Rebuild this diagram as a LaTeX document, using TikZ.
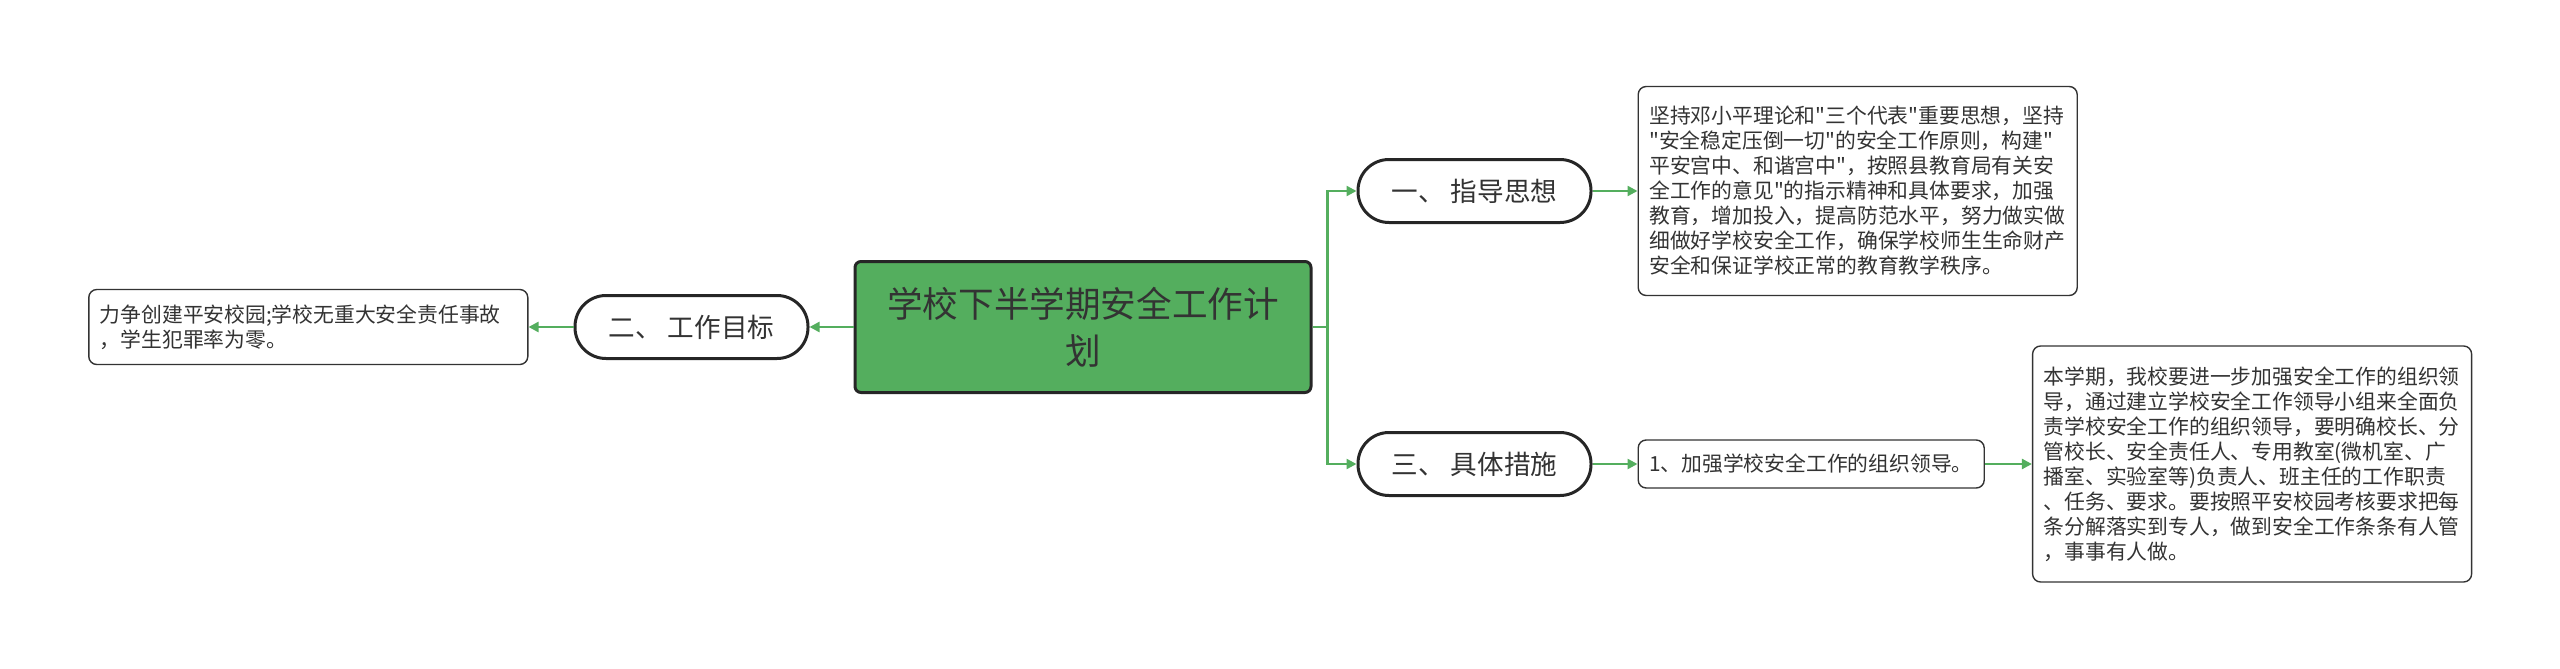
\documentclass[tikz,border=0pt]{standalone}
\usepackage{fontspec}
\setmainfont{Noto Sans CJK SC}[Ligatures=TeXOff]
\usepackage{tikz}
\usetikzlibrary{arrows.meta, positioning}
\definecolor{mapgreen}{RGB}{84,174,94}
\definecolor{inkgray}{RGB}{51,51,51}

\begin{document}
\begin{tikzpicture}[
    root/.style={rectangle, draw=black!85, line width=1.5pt, fill=mapgreen, rounded corners=3pt, minimum width=228pt, minimum height=65.5pt, align=center, text=inkgray, font=\fontsize{17.8pt}{23.4pt}\selectfont},
    topic/.style={rectangle, draw=black!85, line width=1.5pt, fill=white, rounded corners=15.5pt, minimum width=116.5pt, minimum height=31.5pt, text=inkgray, font=\fontsize{13.3pt}{16pt}\selectfont},
    note/.style={rectangle, draw=black!80, line width=0.7pt, fill=white, rounded corners=4pt, text width=208.5pt, inner xsep=5.5pt, inner ysep=0pt, align=left, text=inkgray, font=\fontsize{10.4pt}{12.5pt}\selectfont},
    link/.style={-{Triangle[length=5pt,width=5pt]}, draw=mapgreen, line width=1.2pt}
]

\useasboundingbox (0,0) rectangle (1280pt,-334.5pt);

% Root
\node[root] (plan) at (541.5pt,-163.5pt) {学校下半学期安全工作计\\划};

% Branches
\node[topic, above right=18pt and 22pt of plan] (guide) {一、 指导思想};
\node[topic, below right=18.5pt and 22pt of plan] (measure) {三、 具体措施};
\node[topic, left=22pt of plan] (goal) {二、 工作目标};

% Notes
\node[note, minimum height=104.5pt, right=22.5pt of guide] (guidenote) {坚持邓小平理论和"三个代表"重要思想，坚持\\"安全稳定压倒一切"的安全工作原则，构建"\\平安宫中、和谐宫中"，按照县教育局有关安\\全工作的意见"的指示精神和具体要求，加强\\教育，增加投入，提高防范水平，努力做实做\\细做好学校安全工作，确保学校师生生命财产\\安全和保证学校正常的教育教学秩序。};
\node[note, text width=162pt, minimum height=24pt, right=22.5pt of measure] (step1) {1、加强学校安全工作的组织领导。};
\node[note, minimum height=118pt, right=23.5pt of step1] (step1note) {本学期，我校要进一步加强安全工作的组织领\\导，通过建立学校安全工作领导小组来全面负\\责学校安全工作的组织领导，要明确校长、分\\管校长、安全责任人、专用教室(微机室、广\\播室、实验室等)负责人、班主任的工作职责\\、任务、要求。要按照平安校园考核要求把每\\条分解落实到专人，做到安全工作条条有人管\\，事事有人做。};
\node[note, minimum height=37.5pt, left=22.5pt of goal] (goalnote) {力争创建平安校园;学校无重大安全责任事故\\，学生犯罪率为零。};

% Arrows
\draw[link] (plan.east) -- ++(7.5pt,0) |- (guide.west);
\draw[link] (plan.east) -- ++(7.5pt,0) |- (measure.west);
\draw[link] (plan.west) -- (goal.east);
\draw[link] (goal.west) -- (goalnote.east);
\draw[link] (guide.east) -- (guidenote.west);
\draw[link] (measure.east) -- (step1.west);
\draw[link] (step1.east) -- (step1note.west);

\end{tikzpicture}
\end{document}
